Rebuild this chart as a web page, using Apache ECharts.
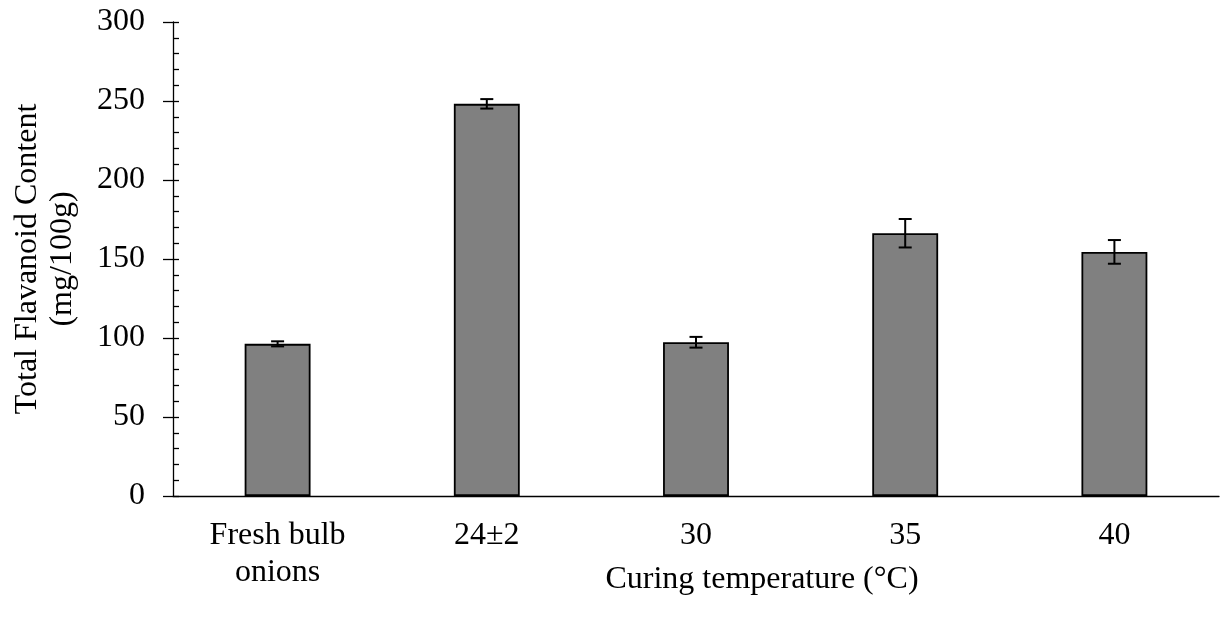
<!DOCTYPE html>
<html><head><meta charset="utf-8">
<script src="https://cdn.jsdelivr.net/npm/echarts@6/dist/echarts.min.js"></script>
<style>html,body{margin:0;padding:0;background:#fff}#c{width:1230px;height:625px}</style>
</head><body><div id="c"></div>
<script>
const categories = ['Fresh bulb\nonions', '24±2', '30', '35', '40'];
const values = [96.3, 248.2, 97.3, 166.3, 154.5];
const errors = [1.6, 3.0, 3.4, 9.0, 7.5];
const yTicks = [0, 50, 100, 150, 200, 250, 300];

const font = 'Liberation Serif, Times New Roman, serif';
const chart = echarts.init(document.getElementById('c'));
chart.setOption({
  animation: false,
  grid: {left: 173, right: 11, top: 22, bottom: 129},
  xAxis: {
    type: 'category', data: categories,
    axisLine: {lineStyle: {color: '#000', width: 1.3}},
    axisTick: {length: 9, lineStyle: {color: '#000', width: 1.3}},
    axisLabel: {color: '#000', fontFamily: font, fontSize: 32, lineHeight: 37, margin: 21, interval: 0},
    name: 'Curing temperature (°C)', nameLocation: 'middle', nameGap: 68, nameMoveOverlap: false,
    nameTextStyle: {color: '#000', fontFamily: font, fontSize: 32, padding: [0, 0, 0, 132]}
  },
  yAxis: [{
    type: 'value', min: yTicks[0], max: yTicks[yTicks.length-1], interval: 50,
    splitLine: {show: false},
    axisLine: {show: true, lineStyle: {color: '#000', width: 1.3}},
    axisTick: {show: true, length: 10, lineStyle: {color: '#000', width: 1.3}},
    axisLabel: {color: '#000', fontFamily: font, fontSize: 32, margin: 28},
    name: 'Total Flavanoid Content\n(mg/100g)', nameLocation: 'middle', nameGap: 93, nameRotate: 90, nameMoveOverlap: false,
    nameTextStyle: {color: '#000', fontFamily: font, fontSize: 32, lineHeight: 35}
  }, {
    type: 'value', position: 'left', offset: 0, min: 0, max: 300, interval: 50,
    splitLine: {show: false},
    axisLine: {show: false},
    axisLabel: {show: false},
    axisTick: {show: true, inside: true, length: 6, lineStyle: {color: '#000', width: 1.3}},
    minorTick: {show: true, splitNumber: 5, length: 6, lineStyle: {color: '#000', width: 1.3}}
  }],
  series: [{
    type: 'bar', data: values, barWidth: '31.5%',
    itemStyle: {color: '#808080', borderColor: '#000', borderWidth: 1.8}
  }, {
    type: 'custom',
    data: values.map((v, i) => [i, v - errors[i], v + errors[i]]),
    renderItem: function (params, api) {
      const lo = api.coord([api.value(0), api.value(1)]);
      const hi = api.coord([api.value(0), api.value(2)]);
      const w = 6.5;
      const st = {stroke: '#000', lineWidth: 2};
      return {type: 'group', children: [
        {type: 'line', shape: {x1: hi[0], y1: hi[1], x2: lo[0], y2: lo[1]}, style: st},
        {type: 'line', shape: {x1: hi[0]-w, y1: hi[1], x2: hi[0]+w, y2: hi[1]}, style: st},
        {type: 'line', shape: {x1: lo[0]-w, y1: lo[1], x2: lo[0]+w, y2: lo[1]}, style: st}
      ]};
    },
    z: 10
  }]
});
</script></body></html>
